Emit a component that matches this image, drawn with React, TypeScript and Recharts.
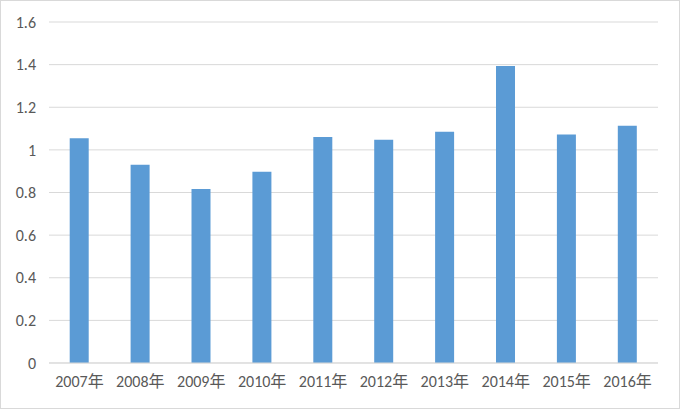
import React from "react";
import { BarChart, Bar, XAxis, YAxis, CartesianGrid } from "recharts";

const years = ["2007年", "2008年", "2009年", "2010年", "2011年", "2012年", "2013年", "2014年", "2015年", "2016年"];
const values = [1.055, 0.93, 0.817, 0.897, 1.06, 1.047, 1.085, 1.394, 1.072, 1.113];
const yTicks = [0, 0.2, 0.4, 0.6, 0.8, 1, 1.2, 1.4, 1.6];

const data = years.map((year, i) => ({ year, value: values[i] }));

const FONT = "Calibri, Carlito, 'Open Sans', 'Noto Sans CJK JP', sans-serif";

export default function App() {
  return (
    <div
      style={{
        position: "absolute",
        left: 0,
        top: 0,
        width: 680,
        height: 409,
        boxSizing: "border-box",
        border: "1px solid #d9d9d9",
        background: "#fff",
      }}
    >
      <BarChart
        width={678}
        height={407}
        data={data}
        margin={{ top: 21, right: 21, bottom: 0, left: 0 }}
        barCategoryGap="34%"
      >
        <CartesianGrid vertical={false} stroke="#d9d9d9" />
        <XAxis
          dataKey="year"
          height={45}
          tickLine={false}
          axisLine={{ stroke: "#d9d9d9" }}
          tickSize={0}
          tickMargin={13}
          interval={0}
          tick={{ fill: "#595959", fontSize: 16, fontFamily: FONT }}
        />
        <YAxis
          width={48}
          domain={[0, 1.6]}
          ticks={yTicks}
          tickLine={false}
          axisLine={false}
          tickSize={0}
          tickMargin={13}
          tick={{ fill: "#595959", fontSize: 16, fontFamily: FONT }}
        />
        <Bar dataKey="value" fill="#5b9bd5" isAnimationActive={false} />
      </BarChart>
    </div>
  );
}
